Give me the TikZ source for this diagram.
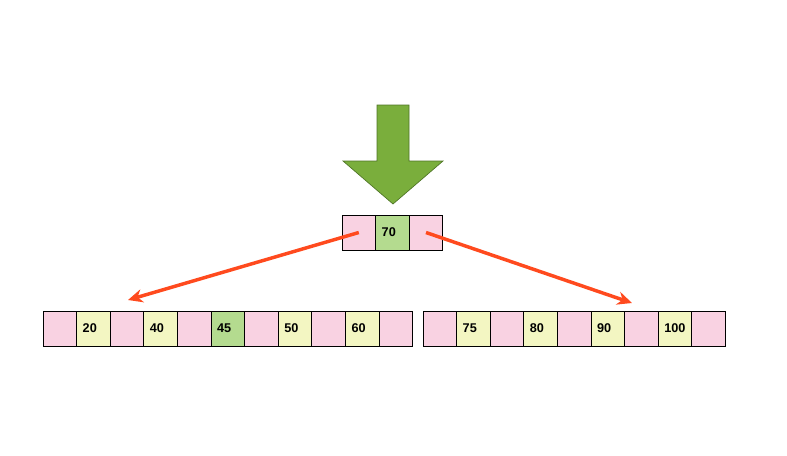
\documentclass[tikz,border=0pt]{standalone}
\usepackage{fontspec}
\setmainfont{Liberation Sans}
\usetikzlibrary{positioning, arrows.meta}
\definecolor{cellpink}{HTML}{F9D2E2}
\definecolor{cellyellow}{HTML}{F3F6C2}
\definecolor{cellgreen}{HTML}{B4DB8F}
\definecolor{arrowgreen}{HTML}{7AAE3C}
\definecolor{arrowedge}{HTML}{4E7426}
\definecolor{pointerred}{HTML}{FF4A1E}

\begin{document}
\begin{tikzpicture}[
    x=0.75pt, y=-0.75pt,
    node distance=0pt,
    cell/.style={draw, line width=0.75pt, outer sep=0pt, minimum width=25.2pt, minimum height=26.25pt,
                 inner xsep=4.6pt, text width=16pt, align=left, font=\fontsize{9.5}{11}\selectfont\bfseries},
    ptr/.style={cell, fill=cellpink},
    key/.style={cell, fill=cellyellow},
    hit/.style={cell, fill=cellgreen},
    arr/.style={-{Stealth[length=11pt, width=10pt]}, line width=2.6pt, pointerred},
]
\useasboundingbox (0,0) rectangle (787,455);

% big arrow pointing at the root
\filldraw[fill=arrowgreen, draw=arrowedge, line width=0.5pt]
    (377,105) -- (409,105) -- (409,161) -- (443,161) -- (393,204) -- (343,161) -- (377,161) -- cycle;

% root node
\node[ptr, anchor=north west] (t1) at (342,215) {};
\node[hit, right=of t1] (t2) {70};
\node[ptr, right=of t2] (t3) {};

% left child
\node[ptr, anchor=north west] (l1) at (43,311) {};
\node[key, right=of l1] (l2) {20};
\node[ptr, right=of l2] (l3) {};
\node[key, right=of l3] (l4) {40};
\node[ptr, right=of l4] (l5) {};
\node[hit, right=of l5] (l6) {45};
\node[ptr, right=of l6] (l7) {};
\node[key, right=of l7] (l8) {50};
\node[ptr, right=of l8] (l9) {};
\node[key, right=of l9] (l10) {60};
\node[ptr, right=of l10] (l11) {};

% right child
\node[ptr, anchor=north west] (r1) at (423,311) {};
\node[key, right=of r1] (r2) {75};
\node[ptr, right=of r2] (r3) {};
\node[key, right=of r3] (r4) {80};
\node[ptr, right=of r4] (r5) {};
\node[key, right=of r5] (r6) {90};
\node[ptr, right=of r6] (r7) {};
\node[key, right=of r7] (r8) {100};
\node[ptr, right=of r8] (r9) {};

\coordinate (lefttip) at (128,300);
\coordinate (righttip) at (632,303);

\draw[arr] (t1.center) -- (lefttip);
\draw[arr] (t3.center) -- (righttip);

\end{tikzpicture}
\end{document}
